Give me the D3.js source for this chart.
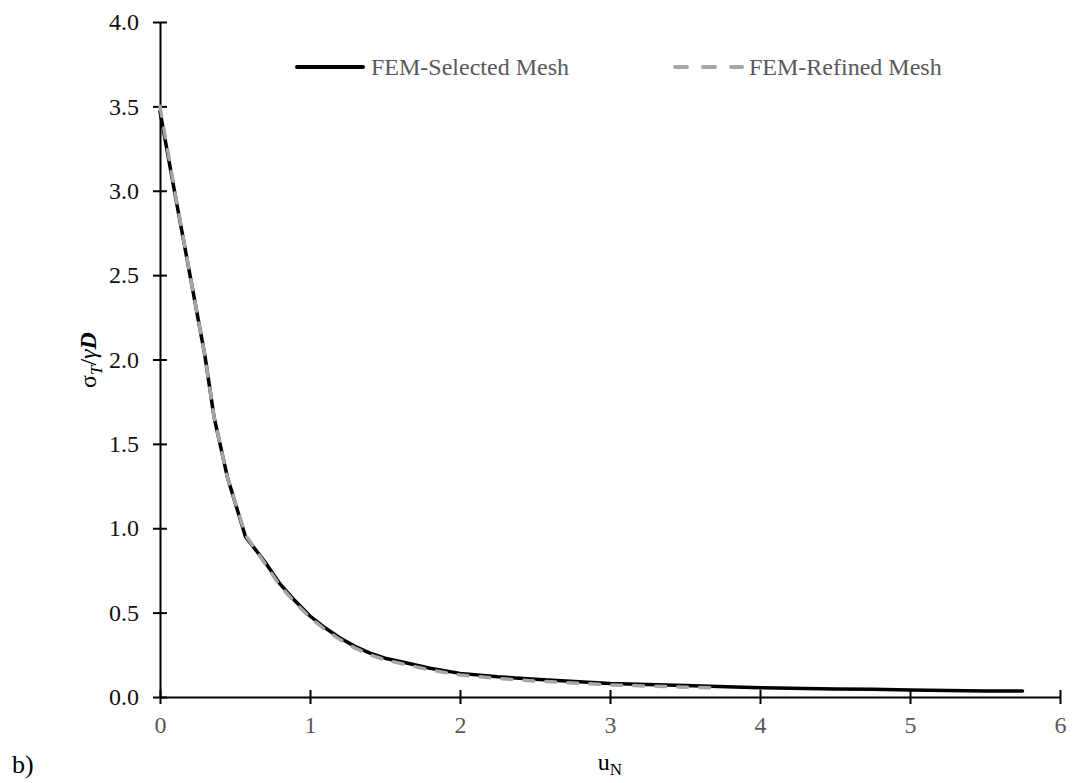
<!DOCTYPE html>
<html><head><meta charset="utf-8">
<script src="https://cdn.jsdelivr.net/npm/d3@7"></script>
<style>body{margin:0;background:#fff}svg{display:block}text{font-family:"Liberation Serif","Times New Roman",serif}</style>
</head><body><svg id="c" width="1075" height="783"></svg>
<script>
const xTicks=[0,1,2,3,4,5,6];
const yTicks=[0,0.5,1,1.5,2,2.5,3,3.5,4];
const seriesNames=["FEM-Selected Mesh","FEM-Refined Mesh"];
const selX=[0,0.1,0.2,0.3,0.36,0.45,0.57,0.7,0.8,0.9,1.0,1.1,1.2,1.3,1.4,1.5,1.6,1.8,2.0,2.25,2.5,3.0,3.5,4.0,4.5,4.75,5.0,5.5,5.75];
const selY=[3.47,2.98,2.50,2.02,1.66,1.30,0.95,0.80,0.67,0.57,0.48,0.41,0.35,0.30,0.26,0.23,0.21,0.17,0.14,0.12,0.105,0.08,0.068,0.055,0.047,0.046,0.042,0.036,0.035];
const refX=[0,0.1,0.2,0.3,0.36,0.45,0.57,0.7,0.8,0.9,1.0,1.1,1.2,1.3,1.4,1.5,1.6,1.8,2.0,2.25,2.5,3.0,3.5,3.7];
const refY=[3.50,2.99,2.50,2.02,1.66,1.30,0.96,0.79,0.66,0.56,0.47,0.40,0.34,0.29,0.25,0.22,0.20,0.16,0.13,0.11,0.095,0.072,0.058,0.055];

const svg=d3.select("#c");
const x=d3.scaleLinear().domain([0,6]).range([160,1060]);
const y=d3.scaleLinear().domain([0,4]).range([697,22]);

// axes
const xa=svg.append("g").attr("transform","translate(0,697)")
  .call(d3.axisBottom(x).tickValues(xTicks).tickFormat(d3.format("d")).tickSizeInner(7).tickSizeOuter(0).tickPadding(12));
xa.select(".domain").attr("stroke","#000").attr("stroke-width",2);
xa.selectAll(".tick line").attr("stroke","#000").attr("stroke-width",2).attr("y1",-7);
xa.selectAll(".tick text").attr("font-size",24).attr("fill","#595959").attr("font-family","Liberation Serif");

const ya=svg.append("g").attr("transform","translate(160,0)")
  .call(d3.axisLeft(y).tickValues(yTicks).tickFormat(d3.format(".1f")).tickSizeInner(7).tickSizeOuter(0).tickPadding(14));
ya.select(".domain").attr("stroke","#000").attr("stroke-width",2);
ya.selectAll(".tick line").attr("stroke","#000").attr("stroke-width",2).attr("x1",7);
ya.selectAll(".tick text").attr("font-size",24).attr("fill","#111").attr("font-family","Liberation Serif");

const line=d3.line().x(d=>x(d[0])).y(d=>y(d[1]));
svg.append("path").datum(selX.map((v,i)=>[v,selY[i]]))
  .attr("d",line).attr("fill","none").attr("stroke","#000").attr("stroke-width",3.5).attr("stroke-linejoin","round").attr("stroke-linecap","round");
svg.append("path").datum(refX.map((v,i)=>[v,refY[i]]))
  .attr("d",line).attr("fill","none").attr("stroke","#a6a6a6").attr("stroke-width",3.5).attr("stroke-dasharray","10,12").attr("stroke-linecap","round");

// legend
const lg=svg.append("g");
lg.append("line").attr("x1",297).attr("x2",363).attr("y1",67).attr("y2",67).attr("stroke","#000").attr("stroke-width",4).attr("stroke-linecap","round");
lg.append("text").attr("x",371).attr("y",75).attr("font-size",24).attr("fill","#595959").text(seriesNames[0]);
lg.append("line").attr("x1",675).attr("x2",742).attr("y1",67).attr("y2",67).attr("stroke","#a6a6a6").attr("stroke-width",4).attr("stroke-dasharray","12,16").attr("stroke-linecap","round");
lg.append("text").attr("x",749).attr("y",75).attr("font-size",24).attr("fill","#595959").text(seriesNames[1]);

// axis titles
const yl=svg.append("text").attr("transform","translate(96,360) rotate(-90)").attr("text-anchor","middle").attr("font-size",24).attr("fill","#000");
yl.append("tspan").text("σ");
yl.append("tspan").attr("font-style","italic").attr("font-size",17).attr("dy",6).text("T");
yl.append("tspan").attr("dy",-6).text("/");
yl.append("tspan").attr("font-style","italic").text("γ");
yl.append("tspan").attr("font-style","italic").attr("font-weight","bold").text("D");

const xl=svg.append("text").attr("x",610).attr("y",770).attr("text-anchor","middle").attr("font-size",24).attr("fill","#000");
xl.append("tspan").text("u");
xl.append("tspan").attr("font-size",17).attr("dy",5).text("N");

svg.append("text").attr("x",12).attr("y",773).attr("font-size",26).attr("fill","#000").text("b)");
</script></body></html>
